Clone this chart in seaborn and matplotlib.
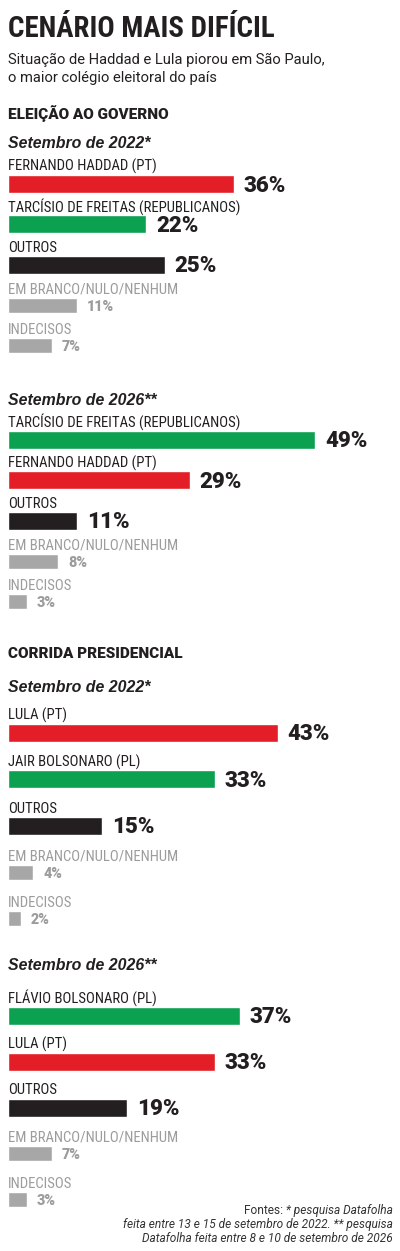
"""
Cenario mais dificil - barras horizontais (Datafolha, Sao Paulo)
"""

import matplotlib
matplotlib.use("Agg")
import matplotlib.pyplot as plt
from matplotlib import font_manager as fm
import seaborn as sns
import pandas as pd

# ===== DADOS =====
gov_2022_nomes = ["FERNANDO HADDAD (PT)", "TARCÍSIO DE FREITAS (REPUBLICANOS)",
                  "OUTROS", "EM BRANCO/NULO/NENHUM", "INDECISOS"]
gov_2022_valores = [36, 22, 25, 11, 7]

gov_2026_nomes = ["TARCÍSIO DE FREITAS (REPUBLICANOS)", "FERNANDO HADDAD (PT)",
                  "OUTROS", "EM BRANCO/NULO/NENHUM", "INDECISOS"]
gov_2026_valores = [49, 29, 11, 8, 3]

pres_2022_nomes = ["LULA (PT)", "JAIR BOLSONARO (PL)",
                   "OUTROS", "EM BRANCO/NULO/NENHUM", "INDECISOS"]
pres_2022_valores = [43, 33, 15, 4, 2]

pres_2026_nomes = ["FLÁVIO BOLSONARO (PL)", "LULA (PT)",
                   "OUTROS", "EM BRANCO/NULO/NENHUM", "INDECISOS"]
pres_2026_valores = [37, 33, 19, 7, 3]

# ===== CORES =====
VERMELHO = "#E41E26"
VERDE = "#0BA150"
PRETO = "#231F20"
CINZA = "#A7A7A7"
CINZA_TXT = "#9C9C9C"

CORES = {
    "FERNANDO HADDAD (PT)": VERMELHO,
    "LULA (PT)": VERMELHO,
    "TARCÍSIO DE FREITAS (REPUBLICANOS)": VERDE,
    "JAIR BOLSONARO (PL)": VERDE,
    "FLÁVIO BOLSONARO (PL)": VERDE,
    "OUTROS": PRETO,
    "EM BRANCO/NULO/NENHUM": CINZA,
    "INDECISOS": CINZA,
}
MENORES = ["EM BRANCO/NULO/NENHUM", "INDECISOS"]

# ===== FIGURA =====
W, H, DPI = 400, 1251, 100
PT = 72 / DPI          # pontos por pixel
X0 = 8                 # margem esquerda em px
ESCALA = 6.27          # px por ponto percentual

sns.set_theme(style="white")
plt.rcParams["font.family"] = ["Liberation Sans", "DejaVu Sans"]


def existe(nome):
    try:
        fm.findfont(fm.FontProperties(family=nome), fallback_to_default=False)
        return True
    except ValueError:
        return False


# fonte estreita se houver, senao Roboto
ESTREITA = next((f for f in ["Liberation Sans Narrow", "DejaVu Sans Condensed",
                             "Roboto Condensed", "Roboto"] if existe(f)),
                "Liberation Sans")
NARROW = [ESTREITA, "DejaVu Sans"]
ROBOTO = ["Roboto", "Liberation Sans", "DejaVu Sans"]

fig = plt.figure(figsize=(W / DPI, H / DPI), dpi=DPI)
fig.patch.set_facecolor("white")
render = fig.canvas.get_renderer()


def fx(x):
    return x / W


def fy(y):
    return 1 - y / H


def tamanho_para(texto, largura, tam_max, **props):
    """Tamanho de fonte (pt) para que o texto ocupe a largura dada em px."""
    t = fig.text(0, 0, texto, fontsize=20, **props)
    w = t.get_window_extent(render).width
    t.remove()
    return min(tam_max, 20 * largura / w)


TAM_ROTULO = tamanho_para("TARCÍSIO DE FREITAS (REPUBLICANOS)", 236, 10.6, family=NARROW)
TAM_FONTE = tamanho_para("feita entre 13 e 15 de setembro de 2022. ** pesquisa", 271, 10,
                         family=ROBOTO, fontstyle="italic")
TAM_SECAO = tamanho_para("ELEIÇÃO AO GOVERNO", 167, 11, family=ROBOTO, fontweight="black")
TAM_VALOR = tamanho_para("36%", 44, 16, family=ROBOTO, fontweight="black")
TAM_VALOR_MENOR = tamanho_para("11%", 27, 12, family=ROBOTO, fontweight="black")


def grupo(nomes, valores, y_centro, passo):
    n = len(nomes)
    topo = y_centro - passo / 2
    alt = passo * n
    ax = fig.add_axes([fx(X0), fy(topo + alt), (W - X0) / W, alt / H])
    df = pd.DataFrame({"nome": nomes, "valor": valores})
    df["menor"] = df["nome"].isin(MENORES)

    for menor, esp in [(False, 18), (True, 15)]:
        sub = df[df["menor"] == menor]
        sns.barplot(data=sub, x="valor", y="nome", hue="nome", order=nomes,
                    palette=CORES, width=esp / passo, saturation=1,
                    errorbar=None, legend=False, ax=ax)

    ax.set_xlim(0, (W - X0) / ESCALA)
    ax.set_ylim(n - 0.5, -0.5)
    ax.axis("off")

    for i, (nome, valor) in enumerate(zip(nomes, valores)):
        menor = nome in MENORES
        esp = 15 if menor else 18
        ax.annotate(nome, xy=(0, i), xytext=(0, (esp / 2 + 4) * PT),
                    textcoords="offset points", ha="left", va="baseline",
                    fontsize=TAM_ROTULO, family=NARROW,
                    color=CINZA_TXT if menor else PRETO,
                    annotation_clip=False)
        if menor:
            ax.annotate(f"{valor}%", xy=(valor, i), xytext=(10 * PT, -5.5 * PT),
                        textcoords="offset points", ha="left", va="baseline",
                        fontsize=TAM_VALOR_MENOR, fontweight="black", family=ROBOTO,
                        color=CINZA_TXT, annotation_clip=False)
        else:
            ax.annotate(f"{valor}%", xy=(valor, i), xytext=(10 * PT, -7.5 * PT),
                        textcoords="offset points", ha="left", va="baseline",
                        fontsize=TAM_VALOR, fontweight="black", family=ROBOTO,
                        color=PRETO, annotation_clip=False)
    return ax


# ===== TITULOS =====
titulo = "CENÁRIO MAIS DIFÍCIL"
tam_titulo = tamanho_para(titulo, 267, 25, family=NARROW, fontweight="heavy")
fig.text(fx(X0), fy(37), titulo, fontsize=tam_titulo, fontweight="heavy",
         family=NARROW, color=PRETO, va="baseline")
fig.text(fx(X0), fy(64), "Situação de Haddad e Lula piorou em São Paulo,",
         fontsize=10.6, family=ROBOTO, color=PRETO, va="baseline")
fig.text(fx(X0), fy(82), "o maior colégio eleitoral do país",
         fontsize=10.6, family=ROBOTO, color=PRETO, va="baseline")

secoes = [(119, "ELEIÇÃO AO GOVERNO"), (658, "CORRIDA PRESIDENCIAL")]
for y, txt in secoes:
    fig.text(fx(X0), fy(y), txt, fontsize=TAM_SECAO, fontweight="black",
             family=ROBOTO, color=PRETO, va="baseline")

periodos = [(148, "Setembro de 2022*"), (405, "Setembro de 2026**"),
            (692, "Setembro de 2022*"), (970, "Setembro de 2026**")]
for y, txt in periodos:
    fig.text(fx(X0), fy(y), txt, fontsize=11.4, fontweight="bold",
             fontstyle="italic", color=PRETO, va="baseline")

# ===== GRAFICOS =====
grupo(gov_2022_nomes, gov_2022_valores, 184, 40.4)
grupo(gov_2026_nomes, gov_2026_valores, 440, 40.5)
grupo(pres_2022_nomes, pres_2022_valores, 732.5, 46.6)
grupo(pres_2026_nomes, pres_2026_valores, 1015.5, 46.0)

# ===== FONTES =====
estilo_fonte = dict(fontsize=TAM_FONTE, family=ROBOTO, color="#333333",
                    ha="right", va="baseline")
t1 = fig.text(fx(393), fy(1214), " * pesquisa Datafolha", fontstyle="italic", **estilo_fonte)
fig.text(fx(393), fy(1228), "feita entre 13 e 15 de setembro de 2022. ** pesquisa",
         fontstyle="italic", **estilo_fonte)
fig.text(fx(393), fy(1242), "Datafolha feita entre 8 e 10 de setembro de 2026",
         fontstyle="italic", **estilo_fonte)

bb = t1.get_window_extent(render)
fig.text(bb.x0 / W, fy(1214), "Fontes:", **estilo_fonte)

fig.savefig("out.png", dpi=DPI, facecolor="white")
